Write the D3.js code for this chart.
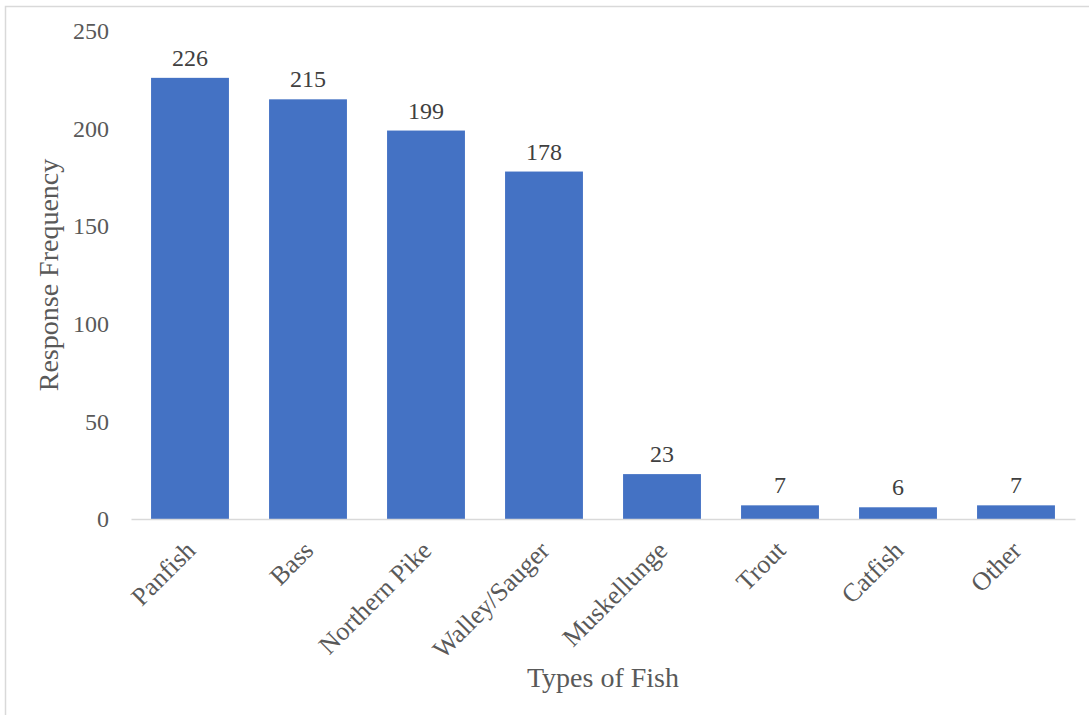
<!DOCTYPE html>
<html>
<head>
<meta charset="utf-8">
<script src="https://cdn.jsdelivr.net/npm/d3@7/dist/d3.min.js"></script>
<style>
  html, body { margin: 0; padding: 0; background: #fff; }
  svg { display: block; font-family: "Liberation Serif", "Times New Roman", serif; }
</style>
</head>
<body>
<svg id="chart" width="1089" height="715"></svg>
<script>
// Fish species named by respondents
const categories = ["Panfish", "Bass", "Northern Pike", "Walley/Sauger", "Muskellunge", "Trout", "Catfish", "Other"];
const responses = [226, 215, 199, 178, 23, 7, 6, 7];
const yTicks = [0, 50, 100, 150, 200, 250];

const svg = d3.select("#chart");

// chart frame (top and left edges)
svg.append("path")
  .attr("d", "M5.5,715 V6.5 H1089")
  .attr("fill", "none")
  .attr("stroke", "#d9d9d9")
  .attr("stroke-width", 1.5);

const x = d3.scaleBand()
  .domain(categories)
  .range([131, 1075])
  .paddingInner(0.34)
  .paddingOuter(0.17);

const y = d3.scaleLinear()
  .domain([0, 250])
  .range([519, 31]);

// y axis labels
const yAxis = svg.append("g")
  .attr("transform", "translate(109,0)")
  .call(d3.axisLeft(y).tickValues(yTicks).tickSize(0).tickPadding(0));
yAxis.select(".domain").remove();
yAxis.selectAll("text")
  .attr("font-family", "Liberation Serif, Times New Roman, serif")
  .attr("font-size", 24)
  .attr("fill", "#595959");

// bars
svg.append("g").selectAll("rect")
  .data(categories)
  .join("rect")
  .attr("x", d => x(d))
  .attr("width", x.bandwidth())
  .attr("y", (d, i) => y(responses[i]))
  .attr("height", (d, i) => y(0) - y(responses[i]))
  .attr("fill", "#4472c4");

// baseline axis
const xAxis = svg.append("g")
  .attr("transform", `translate(0,${y(0)})`)
  .call(d3.axisBottom(x).tickSize(0).tickPadding(0));
xAxis.select(".domain").attr("stroke", "#d9d9d9").attr("stroke-width", 1.5);
xAxis.selectAll("text")
  .attr("font-family", "Liberation Serif, Times New Roman, serif")
  .attr("font-size", 26)
  .attr("fill", "#595959")
  .attr("text-anchor", "end")
  .attr("dy", null)
  .attr("y", 0)
  .attr("transform", "translate(7,33) rotate(-45)");

// value labels
svg.append("g").selectAll("text")
  .data(categories)
  .join("text")
  .attr("x", d => x(d) + x.bandwidth() / 2)
  .attr("y", (d, i) => y(responses[i]) - 12)
  .attr("text-anchor", "middle")
  .attr("font-size", 24)
  .attr("fill", "#404040")
  .text((d, i) => responses[i]);

// axis titles
svg.append("text")
  .attr("transform", "translate(58,275) rotate(-90)")
  .attr("text-anchor", "middle")
  .attr("font-size", 28)
  .attr("fill", "#595959")
  .text("Response Frequency");

svg.append("text")
  .attr("x", 603)
  .attr("y", 687)
  .attr("text-anchor", "middle")
  .attr("font-size", 28)
  .attr("fill", "#595959")
  .text("Types of Fish");
</script>
</body>
</html>
